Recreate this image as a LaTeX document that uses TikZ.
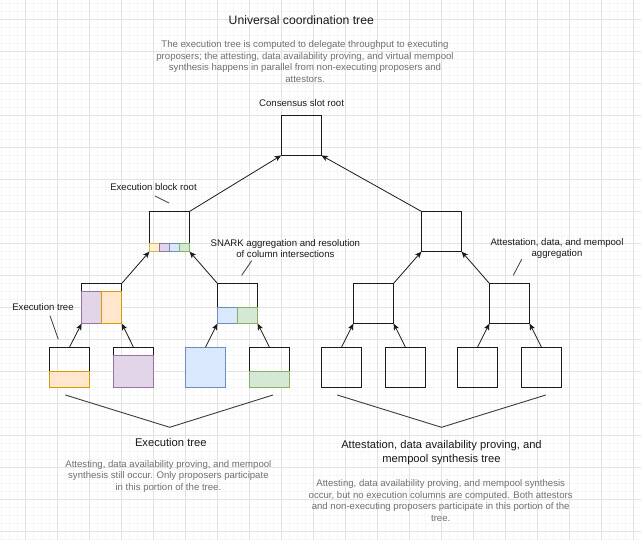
\documentclass[tikz,border=0pt]{standalone}
\usepackage{fontspec}
\setmainfont{Liberation Sans}
\usetikzlibrary{arrows.meta}
\definecolor{gridmajor}{HTML}{E2E2E2}
\definecolor{gridminor}{HTML}{F6F6F6}
\definecolor{orfill}{HTML}{FFE6CC}\definecolor{orline}{HTML}{D79B00}
\definecolor{pufill}{HTML}{E1D5E7}\definecolor{puline}{HTML}{9673A6}
\definecolor{blfill}{HTML}{DAE8FC}\definecolor{blline}{HTML}{6C8EBF}
\definecolor{grfill}{HTML}{D5E8D4}\definecolor{grline}{HTML}{82B366}
\definecolor{yefill}{HTML}{FFF2CC}\definecolor{yeline}{HTML}{D6B656}
\definecolor{graytext}{HTML}{707070}
\definecolor{ink}{HTML}{1A1A1A}
\begin{document}
\begin{tikzpicture}[x=1pt,y=-1pt,
  box/.style={draw=ink, line width=0.9pt, minimum size=40.2pt, inner sep=0pt, outer sep=0pt},
  orcell/.style={fill=orfill, draw=orline, line width=0.9pt},
  pucell/.style={fill=pufill, draw=puline, line width=0.9pt},
  blcell/.style={fill=blfill, draw=blline, line width=0.9pt},
  grcell/.style={fill=grfill, draw=grline, line width=0.9pt},
  yecell/.style={fill=yefill, draw=yeline, line width=0.9pt},
  arr/.style={draw=ink, line width=0.8pt, -{Stealth[length=6.5pt,width=5.5pt,inset=1.6pt]}},
  lead/.style={draw=ink!85, line width=0.8pt},
  brace/.style={draw=ink!85, line width=0.9pt},
  lbl/.style={font=\fontsize{9.6}{11.5}\selectfont, text=ink, inner sep=0pt, align=center},
  desc/.style={font=\fontsize{9.6}{11.6}\selectfont, text=graytext, inner sep=0pt, align=center},
  head/.style={font=\fontsize{11.2}{13.4}\selectfont, text=ink, inner sep=0pt, align=center},
  ttl/.style={font=\fontsize{12.2}{14.6}\selectfont, text=ink, inner sep=0pt}
]
\useasboundingbox (0,0) rectangle (641,540);
\fill[white] (0,0) rectangle (641,540);
% grid
\foreach \gx in {1.3,9.3,...,641} \draw[gridminor, line width=0.7pt] (\gx,0) -- (\gx,540);
\foreach \gy in {3.3,11.3,...,540} \draw[gridminor, line width=0.7pt] (0,\gy) -- (641,\gy);
\foreach \gx in {25.3,57.3,...,641} \draw[gridmajor, line width=0.8pt] (\gx,0) -- (\gx,540);
\foreach \gy in {19.3,51.3,...,540} \draw[gridmajor, line width=0.8pt] (0,\gy) -- (641,\gy);

% texts
\node[ttl] (title) at (301.3,20) {Universal coordination tree};
\node[desc] (topdesc) at (305,61.7) {The execution tree is computed to delegate throughput to executing\\proposers; the attesting, data availability proving, and virtual mempool\\synthesis happens in parallel from non-executing proposers and\\attestors.};
\node[lbl] (rootlbl) at (301.6,103.3) {Consensus slot root};
\node[lbl] (eblbl) at (153.5,187) {Execution block root};
\node[lbl] (etlbl) at (43,306.7) {Execution tree};
\node[lbl] (snarklbl) at (285.4,248.5) {SNARK aggregation and resolution\\of column intersections};
\node[lbl] (attlbl) at (557,248.5) {Attestation, data, and mempool\\aggregation};
\node[head] (exhead) at (170.8,442.7) {Execution tree};
\node[desc] (exdesc) at (168.4,476.3) {Attesting, data availability proving, and mempool\\synthesis still occur. Only proposers participate\\in this portion of the tree.};
\node[head] (athead) at (441.5,452.5) {Attestation, data availability proving, and\\mempool synthesis tree};
\node[desc] (atdesc) at (440.7,500.7) {Attesting, data availability proving, and mempool synthesis\\occur, but no execution columns are computed. Both attestors\\and non-executing proposers participate in this portion of the\\tree.};

% boxes
\node[box] (root) at (301.3,135.3) {};
\node[box] (ea) at (169.5,231.5) {};
\node[box] (eb) at (441.5,231.5) {};
\node[box] (ma) at (101.7,303.5) {};
\node[box] (mb) at (237.5,303.5) {};
\node[box] (mc) at (373.5,303.5) {};
\node[box] (md) at (509.5,303.5) {};
\node[box] (la) at (69.5,367.3) {};
\node[box] (lb) at (133.5,367.3) {};
\node[box] (lc) at (205.5,367.3) {};
\node[box] (ld) at (269.5,367.3) {};
\node[box] (le) at (341.5,367.3) {};
\node[box] (lf) at (405.5,367.3) {};
\node[box] (lg) at (477.5,367.3) {};
\node[box] (lh) at (541.5,367.3) {};

% coloured cells
\draw[orcell] (la.south west) rectangle ([yshift=16pt]la.south east);
\draw[pucell] (lb.south west) rectangle ([yshift=32pt]lb.south east);
\draw[blcell] (lc.south west) rectangle (lc.north east);
\draw[grcell] (ld.south west) rectangle ([yshift=16pt]ld.south east);
\draw[pucell] (ma.south west) rectangle ([yshift=32.2pt]ma.south);
\draw[orcell] (ma.south) rectangle ([yshift=32.2pt]ma.south east);
\draw[blcell] (mb.south west) rectangle ([yshift=16.2pt]mb.south);
\draw[grcell] (mb.south) rectangle ([yshift=16.2pt]mb.south east);
\draw[yecell] (ea.south west) rectangle ([xshift=10pt,yshift=8.2pt]ea.south west);
\draw[pucell] ([xshift=10pt]ea.south west) rectangle ([yshift=8.2pt]ea.south);
\draw[blcell] (ea.south) rectangle ([xshift=10pt,yshift=8.2pt]ea.south);
\draw[grcell] ([xshift=10pt]ea.south) rectangle ([yshift=8.2pt]ea.south east);

% arrows
\draw[arr] (la.north) -- (ma.south west);
\draw[arr] (lb.north) -- (ma.south east);
\draw[arr] (lc.north) -- (mb.south west);
\draw[arr] (ld.north) -- (mb.south east);
\draw[arr] (le.north) -- (mc.south west);
\draw[arr] (lf.north) -- (mc.south east);
\draw[arr] (lg.north) -- (md.south west);
\draw[arr] (lh.north) -- (md.south east);
\draw[arr] (ma.north east) -- (ea.south west);
\draw[arr] (mb.north west) -- (ea.south east);
\draw[arr] (mc.north east) -- (eb.south west);
\draw[arr] (md.north west) -- (eb.south east);
\draw[arr] (ea.north east) -- (root.south west);
\draw[arr] (eb.north west) -- (root.south east);

% leader lines
\coordinate (eb1) at (155,196); \coordinate (eb2) at (169,203);
\draw[lead] (eb1) -- (eb2);
\coordinate (sn1) at (251.7,260.7); \coordinate (sn2) at (241.7,275.3);
\draw[lead] (sn1) -- (sn2);
\coordinate (at1) at (521.7,259.3); \coordinate (at2) at (513.3,275.3);
\draw[lead] (at1) -- (at2);
\coordinate (et1) at (50,315.7); \coordinate (et2) at (58.3,339.3);
\draw[lead] (et1) -- (et2);

% braces
\coordinate (bl1) at (65.4,395); \coordinate (bl2) at (169.7,427.3); \coordinate (bl3) at (273,395);
\draw[brace] (bl1) -- (bl2) -- (bl3);
\coordinate (br1) at (337.3,395); \coordinate (br2) at (441.5,427.3); \coordinate (br3) at (545.8,395);
\draw[brace] (br1) -- (br2) -- (br3);
\end{tikzpicture}
\end{document}
